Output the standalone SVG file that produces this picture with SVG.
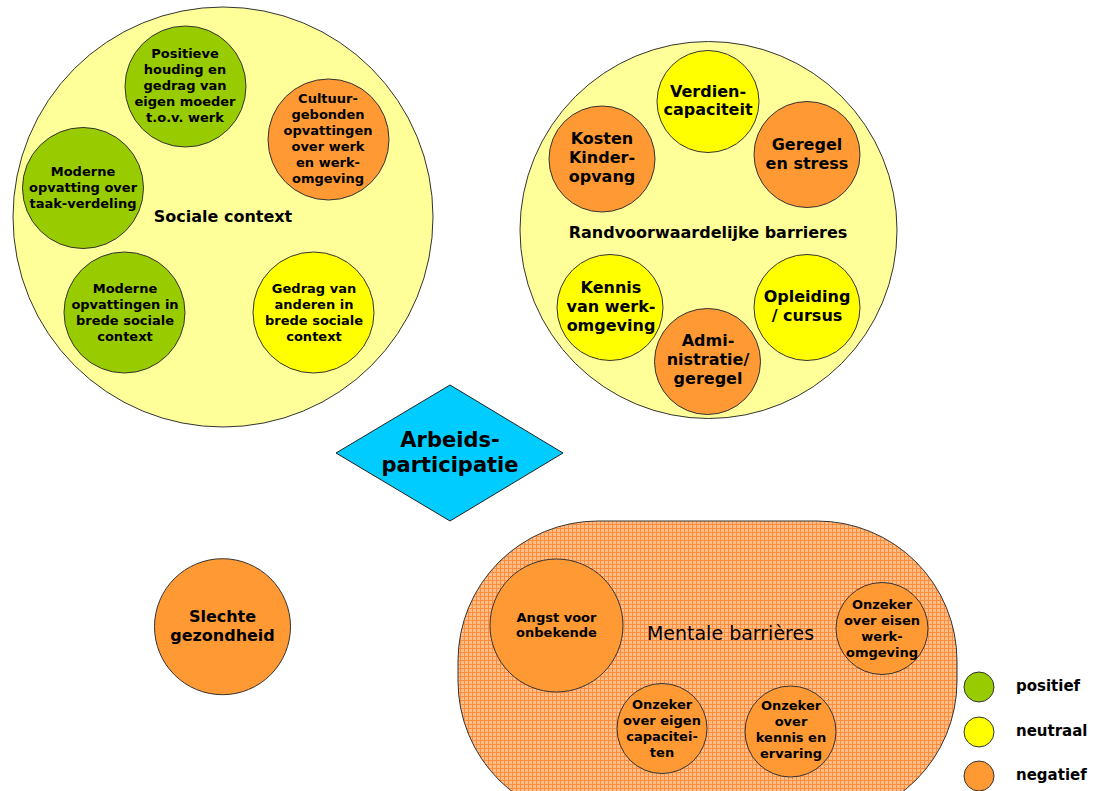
<svg xmlns="http://www.w3.org/2000/svg" width="1094" height="791" viewBox="0 0 1094 791">
<defs>
<pattern id="grid" width="4" height="4" patternUnits="userSpaceOnUse">
<rect width="4" height="4" fill="#FFBE88"/>
<rect width="4" height="1" fill="#FF8C3A"/>
<rect width="1" height="4" fill="#FF8C3A"/>
</pattern>
<style>
.c{stroke:#333;stroke-width:1}
.g{fill:#99CC00}
.y{fill:#FFFF00}
.o{fill:#FF9933}
.ly{fill:#FFFF99}
text{font-family:"DejaVu Sans","Verdana",sans-serif;font-weight:bold;fill:#000;text-anchor:middle}
.s13{font-size:13px}
.s16{font-size:16px}
.s15{font-size:15px;text-anchor:start}
.big{font-size:21px}
.norm{font-weight:normal;font-size:19px}
</style>
</defs>
<rect width="1094" height="791" fill="#fff"/>

<g id="sociale-context">
<circle class="c ly" cx="223" cy="217" r="210"/>
<text class="s16" x="223" y="222">Sociale context</text>
</g>
<g id="positieve-houding">
<circle class="c g" cx="185.5" cy="86.5" r="60.5"/>
<text class="s13" x="185" y="58">Positieve</text>
<text class="s13" x="185" y="74">houding en</text>
<text class="s13" x="185" y="90">gedrag van</text>
<text class="s13" x="185" y="106">eigen moeder</text>
<text class="s13" x="185" y="122">t.o.v. werk</text>
</g>
<g id="cultuurgebonden">
<circle class="c o" cx="328.5" cy="139.5" r="60.5"/>
<text class="s13" x="328" y="103">Cultuur-</text>
<text class="s13" x="328" y="119">gebonden</text>
<text class="s13" x="328" y="135">opvattingen</text>
<text class="s13" x="328" y="151">over werk</text>
<text class="s13" x="328" y="167">en werk-</text>
<text class="s13" x="328" y="183">omgeving</text>
</g>
<g id="moderne-taakverdeling">
<circle class="c g" cx="83" cy="188" r="60.5"/>
<text class="s13" x="83" y="176">Moderne</text>
<text class="s13" x="83" y="192">opvatting over</text>
<text class="s13" x="83" y="208">taak-verdeling</text>
</g>
<g id="moderne-brede">
<circle class="c g" cx="124.5" cy="312.5" r="60.5"/>
<text class="s13" x="125" y="293">Moderne</text>
<text class="s13" x="125" y="309">opvattingen in</text>
<text class="s13" x="125" y="325">brede sociale</text>
<text class="s13" x="125" y="341">context</text>
</g>
<g id="gedrag-anderen">
<circle class="c y" cx="313.5" cy="312.5" r="60.5"/>
<text class="s13" x="314" y="293">Gedrag van</text>
<text class="s13" x="314" y="309">anderen in</text>
<text class="s13" x="314" y="325">brede sociale</text>
<text class="s13" x="314" y="341">context</text>
</g>

<g id="randvoorwaardelijke">
<circle class="c ly" cx="708.5" cy="230" r="188.5"/>
<text class="s16" x="708" y="238">Randvoorwaardelijke barrieres</text>
</g>
<g id="verdiencapaciteit">
<circle class="c y" cx="708" cy="101.5" r="51"/>
<text class="s16" x="708" y="97">Verdien-</text>
<text class="s16" x="708" y="115">capaciteit</text>
</g>
<g id="kosten-kinderopvang">
<circle class="c o" cx="602" cy="159" r="53"/>
<text class="s16" x="602" y="144">Kosten</text>
<text class="s16" x="602" y="163">Kinder-</text>
<text class="s16" x="602" y="182">opvang</text>
</g>
<g id="geregel-stress">
<circle class="c o" cx="807" cy="154.5" r="53"/>
<text class="s16" x="807" y="150">Geregel</text>
<text class="s16" x="807" y="169">en stress</text>
</g>
<g id="kennis-werkomgeving">
<circle class="c y" cx="610" cy="307.5" r="53"/>
<text class="s16" x="611" y="293">Kennis</text>
<text class="s16" x="611" y="312">van werk-</text>
<text class="s16" x="611" y="331">omgeving</text>
</g>
<g id="opleiding">
<circle class="c y" cx="807" cy="307.5" r="53"/>
<text class="s16" x="807" y="302">Opleiding</text>
<text class="s16" x="807" y="321">/ cursus</text>
</g>
<g id="administratie">
<circle class="c o" cx="707.5" cy="361.5" r="53"/>
<text class="s16" x="708" y="346">Admi-</text>
<text class="s16" x="708" y="365">nistratie/</text>
<text class="s16" x="708" y="384">geregel</text>
</g>

<g id="arbeidsparticipatie">
<polygon points="450,385 563,453 450,521 336,453" fill="#00CCFF" stroke="#222" stroke-width="1"/>
<text class="big" x="450" y="447">Arbeids-</text>
<text class="big" x="450" y="472">participatie</text>
</g>

<g id="slechte-gezondheid">
<circle class="c o" cx="222.5" cy="626.7" r="68"/>
<text class="s16" x="222.5" y="622">Slechte</text>
<text class="s16" x="222.5" y="641">gezondheid</text>
</g>

<g id="mentale-barrieres">
<rect x="458" y="521" width="499" height="300" rx="140" ry="140" fill="url(#grid)" stroke="#333" stroke-width="1"/>
<text class="norm" x="730.5" y="640">Mentale barrières</text>
</g>
<g id="angst">
<circle class="c o" cx="556.5" cy="625.5" r="66.5"/>
<text class="s13" x="556.5" y="622">Angst voor</text>
<text class="s13" x="556.5" y="637">onbekende</text>
</g>
<g id="onzeker-eisen">
<circle class="c o" cx="882" cy="628.5" r="46"/>
<text class="s13" x="882" y="609">Onzeker</text>
<text class="s13" x="882" y="625">over eisen</text>
<text class="s13" x="882" y="641">werk-</text>
<text class="s13" x="882" y="657">omgeving</text>
</g>
<g id="onzeker-capaciteiten">
<circle class="c o" cx="662" cy="728.5" r="45"/>
<text class="s13" x="662" y="709">Onzeker</text>
<text class="s13" x="662" y="725">over eigen</text>
<text class="s13" x="662" y="741">capacitei-</text>
<text class="s13" x="662" y="757">ten</text>
</g>
<g id="onzeker-kennis">
<circle class="c o" cx="790.5" cy="731.5" r="45.5"/>
<text class="s13" x="791" y="710">Onzeker</text>
<text class="s13" x="791" y="726">over</text>
<text class="s13" x="791" y="742">kennis en</text>
<text class="s13" x="791" y="758">ervaring</text>
</g>

<g id="legend">
<circle class="c g" cx="979" cy="687" r="15"/>
<text class="s15" x="1016" y="691">positief</text>
<circle class="c y" cx="979" cy="732" r="15"/>
<text class="s15" x="1016" y="736">neutraal</text>
<circle class="c o" cx="979" cy="776" r="15"/>
<text class="s15" x="1016" y="780">negatief</text>
</g>

<g id="connectors"></g>
</svg>
